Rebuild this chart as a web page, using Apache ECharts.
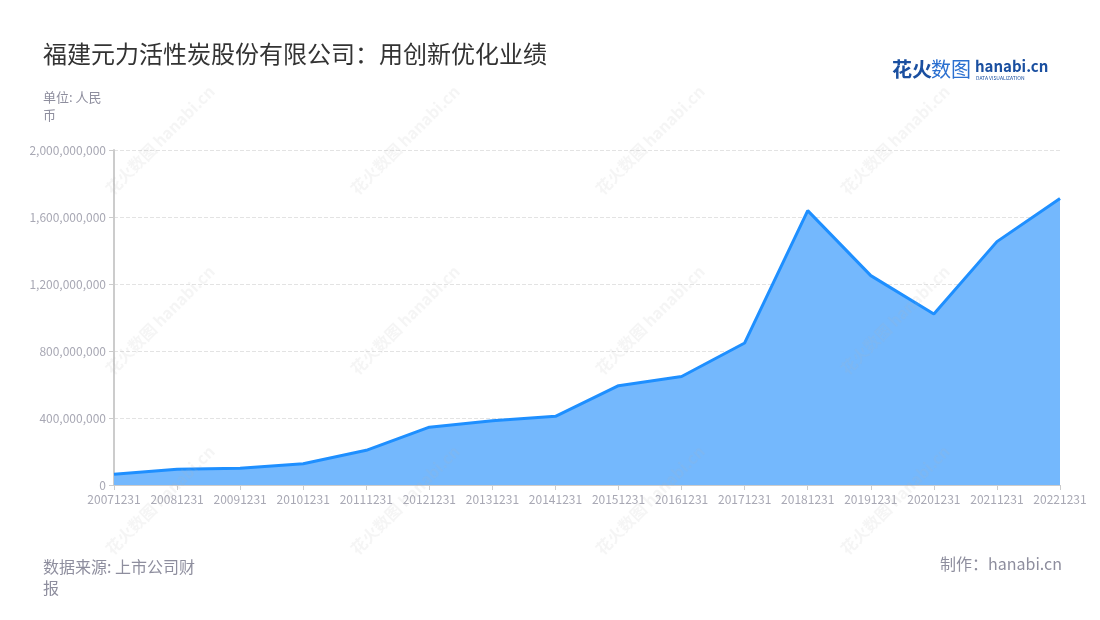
<!DOCTYPE html>
<html>
<head>
<meta charset="utf-8">
<script src="https://cdn.jsdelivr.net/npm/echarts@6/dist/echarts.min.js"></script>
<style>html,body{margin:0;padding:0;background:#fff;}#main{width:1100px;height:620px;}</style>
</head>
<body>
<div id="main"></div>
<script>
const categories = ['20071231','20081231','20091231','20101231','20111231','20121231','20131231','20141231','20151231','20161231','20171231','20181231','20191231','20201231','20211231','20221231'];
const values = [64000000, 94000000, 100000000, 127000000, 207000000, 345000000, 383000000, 410000000, 593000000, 648000000, 848000000, 1638000000, 1250000000, 1021000000, 1453000000, 1711000000];
const yTicks = [0, 400000000, 800000000, 1200000000, 1600000000, 2000000000];

const font = '"Noto Sans CJK SC", "Noto Sans", sans-serif';
const chart = echarts.init(document.getElementById('main'));

const wm = [];
const wmX = [160, 405, 650, 895];
const wmY = [140, 320, 500];
wmX.forEach(x => wmY.forEach(y => {
  wm.push({
    type: 'text', x: x, y: y, rotation: Math.PI / 4, z: 100, silent: true,
    style: { text: '花火数图 hanabi.cn', fill: 'rgba(180,180,180,0.13)', font: 'bold 16px ' + font, align: 'center', verticalAlign: 'middle' }
  });
}));

chart.setOption({
  backgroundColor: '#fff',
  animation: false,
  title: {
    text: '福建元力活性炭股份有限公司：用创新优化业绩',
    left: 38, top: 37,
    textStyle: { fontFamily: font, fontSize: 24, fontWeight: 'normal', color: '#333' }
  },
  grid: { left: 114, right: 40, top: 150, bottom: 135 },
  xAxis: {
    type: 'category', data: categories, boundaryGap: false,
    axisLine: { lineStyle: { color: '#ccc' } },
    axisTick: { show: true, lineStyle: { color: '#ccc' } },
    axisLabel: { color: '#a8a8b4', fontSize: 12, fontFamily: font, margin: 8, interval: 0 }
  },
  yAxis: {
    type: 'value', min: yTicks[0], max: yTicks[yTicks.length - 1], interval: 400000000,
    axisLine: { show: true, lineStyle: { color: '#ccc', width: 2 } },
    axisTick: { show: true, lineStyle: { color: '#ccc' } },
    splitLine: { lineStyle: { type: 'dashed', color: '#e3e3e3' } },
    axisLabel: {
      color: '#a8a8b4', fontSize: 12, fontFamily: font, margin: 8,
      formatter: v => v.toLocaleString('en-US')
    }
  },
  series: [{
    type: 'line', data: values, symbol: 'none',
    lineStyle: { color: '#1e8fff', width: 3 },
    areaStyle: { color: '#74b8fd', opacity: 1 },
    itemStyle: { color: '#1e8fff' }
  }],
  graphic: wm.concat([
    { type: 'text', left: 43, top: 88, style: { text: '单位: 人民\n币', fill: '#8e8e9e', font: '13px ' + font, lineHeight: 18 } },
    { type: 'text', left: 43, top: 556, style: { text: '数据来源: 上市公司财\n报', fill: '#8e8e9e', font: '16px ' + font, lineHeight: 21 } },
    { type: 'text', right: 38, top: 556, style: { text: '制作：hanabi.cn', fill: '#8e8e9e', font: '16px ' + font } },
    { type: 'text', left: 892, top: 59, style: { text: '花火', fill: '#1a4fa0', font: 'bold 20px ' + font } },
    { type: 'text', left: 931, top: 59, style: { text: '数图', fill: '#2a6fd0', font: '20px ' + font } },
    { type: 'text', left: 975, top: 59, style: { text: 'hanabi.cn', fill: '#1a4fa0', font: 'bold 15px ' + font } },
    { type: 'text', left: 976, top: 76, style: { text: 'DATA VISUALIZATION', fill: '#1a4fa0', font: '5px ' + font } }
  ])
});
</script>
</body>
</html>
